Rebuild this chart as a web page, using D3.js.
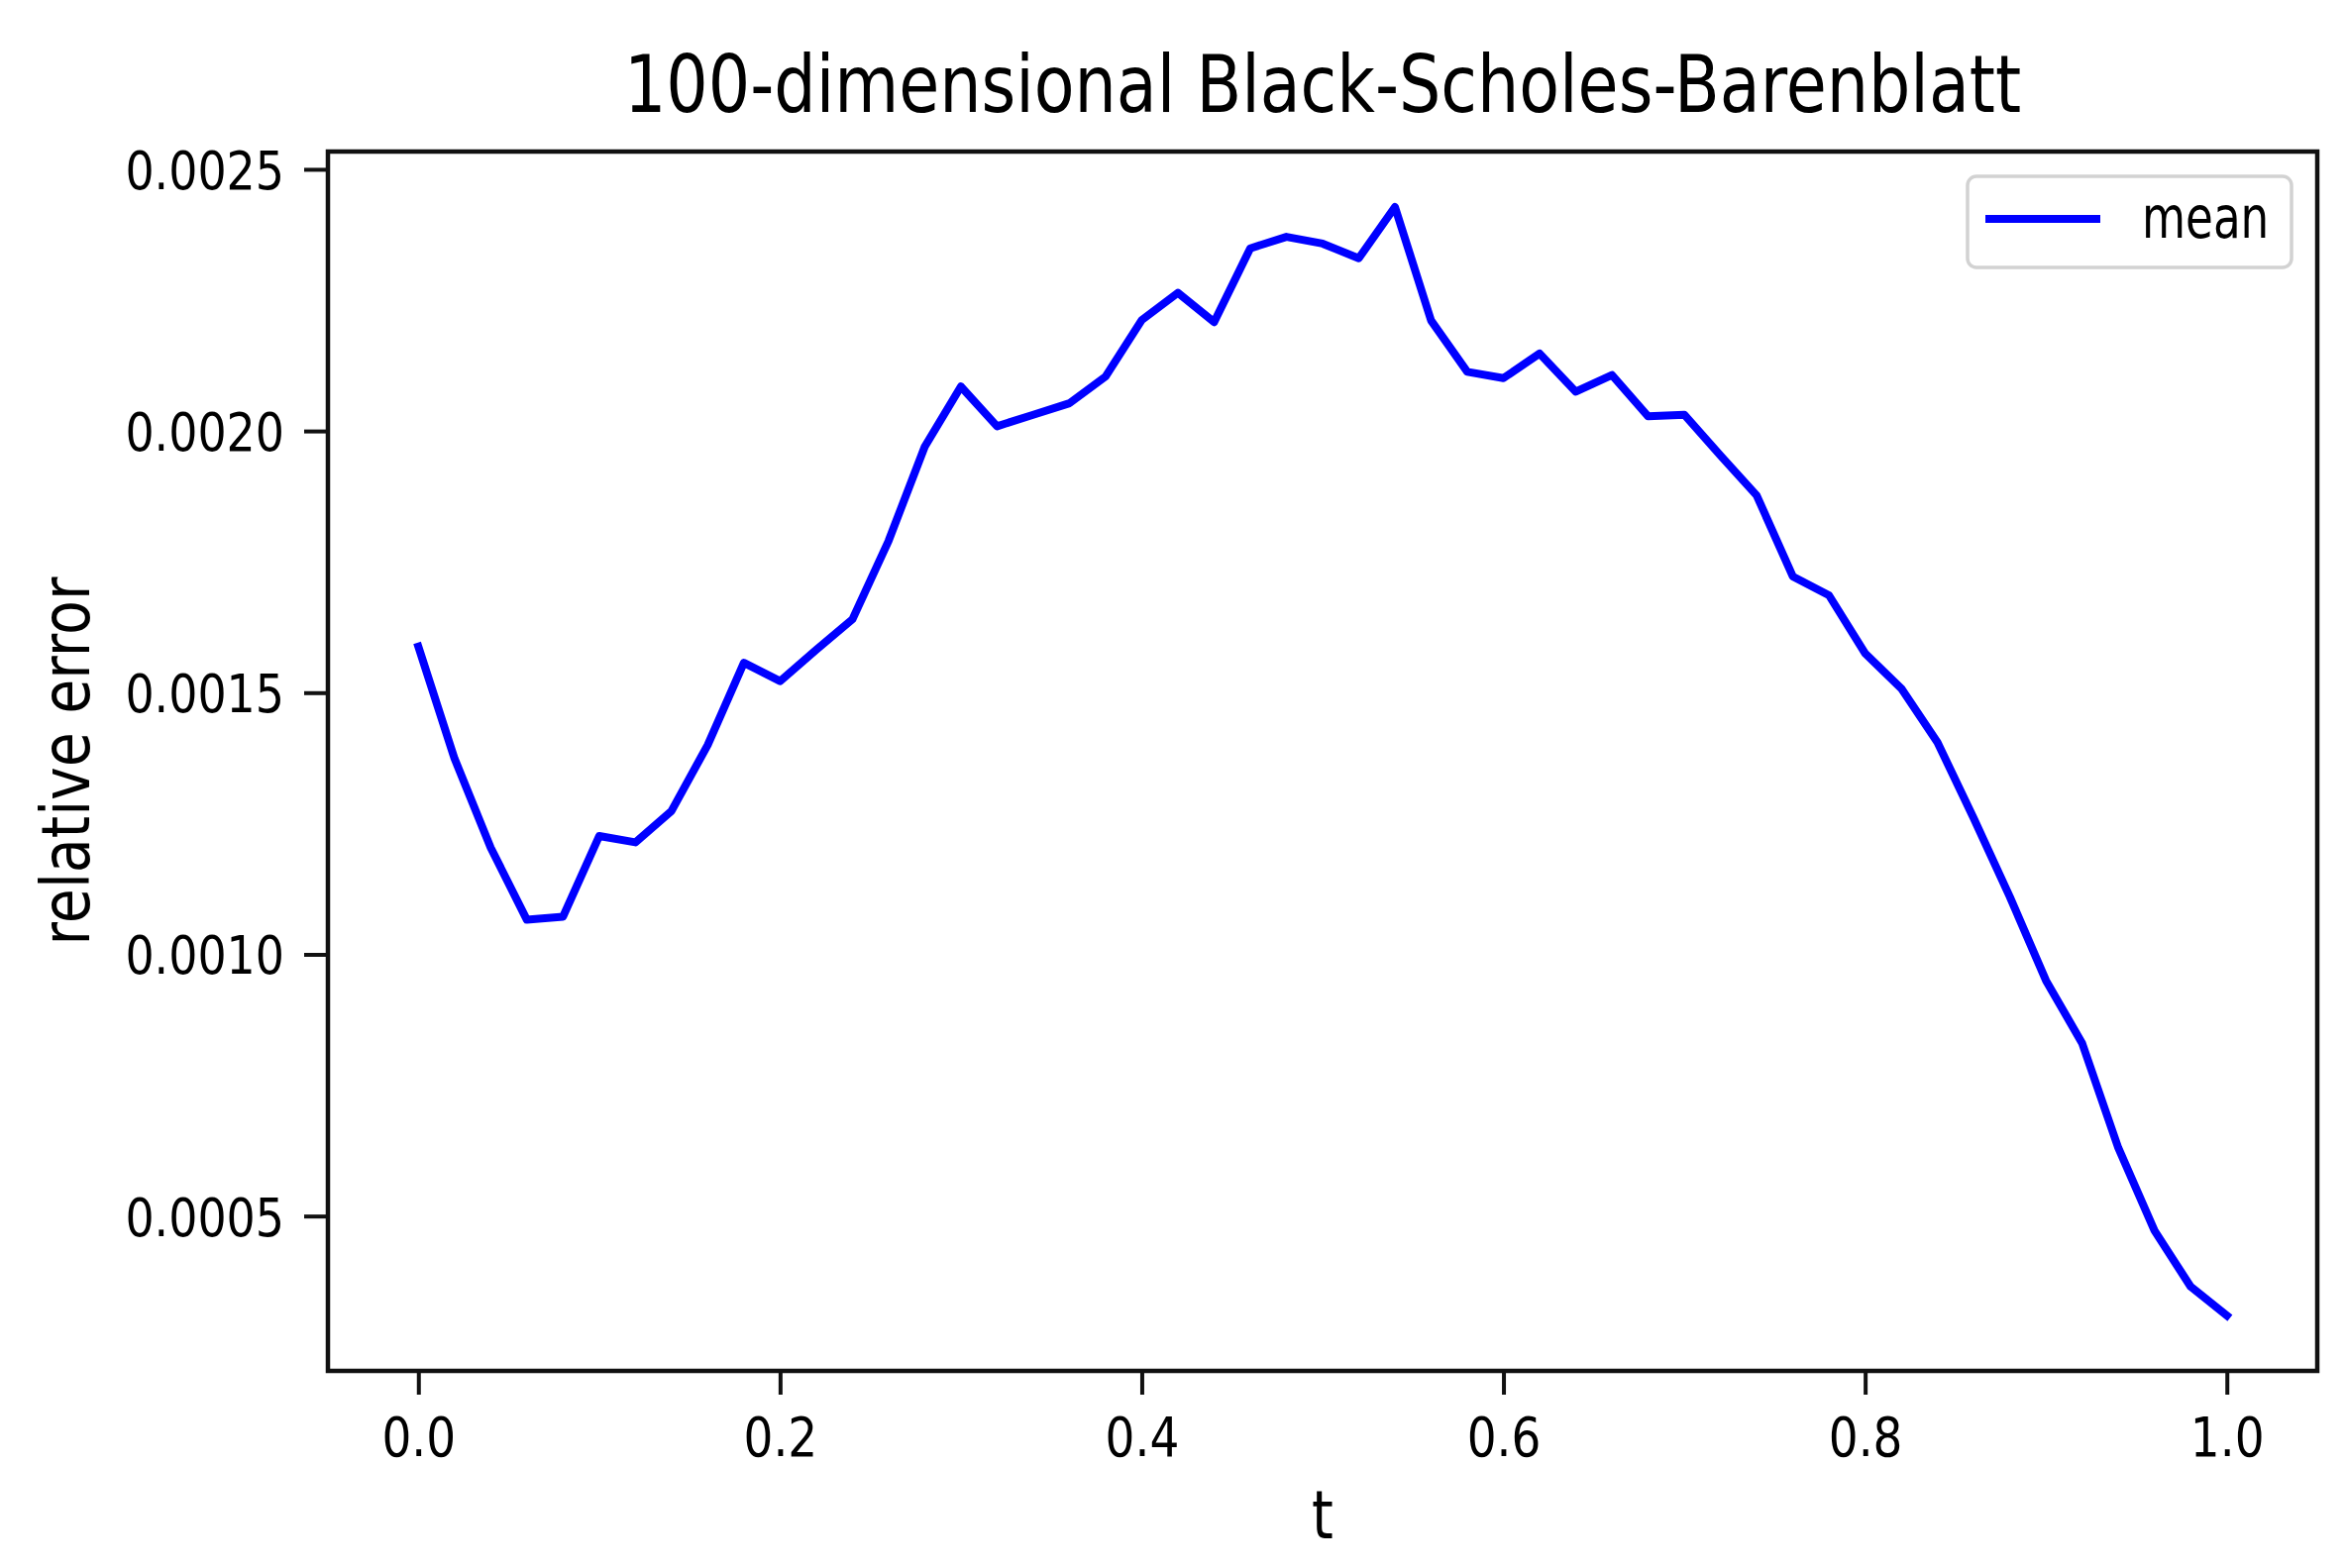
<!DOCTYPE html>
<html>
<head>
<meta charset="utf-8">
<script src="https://cdn.jsdelivr.net/npm/d3@7"></script>
<style>
  body { margin: 0; background: #ffffff; }
  svg { display: block; }
  text { font-family: "DejaVu Sans", "Liberation Sans", sans-serif; fill: #000; }
</style>
</head>
<body>
<svg id="chart" width="2368" height="1583"></svg>
<script>
// ---------------- data ----------------
const tValues = [
  0.00, 0.02, 0.04, 0.06, 0.08, 0.10, 0.12, 0.14, 0.16, 0.18,
  0.20, 0.22, 0.24, 0.26, 0.28, 0.30, 0.32, 0.34, 0.36, 0.38,
  0.40, 0.42, 0.44, 0.46, 0.48, 0.50, 0.52, 0.54, 0.56, 0.58,
  0.60, 0.62, 0.64, 0.66, 0.68, 0.70, 0.72, 0.74, 0.76, 0.78,
  0.80, 0.82, 0.84, 0.86, 0.88, 0.90, 0.92, 0.94, 0.96, 0.98, 1.00
];
const meanError = [
  0.001588, 0.001374, 0.001204, 0.001066, 0.001072, 0.001226, 0.001214, 0.001274, 0.001400, 0.001557,
  0.001522, 0.001582, 0.001640, 0.001790, 0.001970, 0.002085, 0.002009, 0.002031, 0.002053, 0.002104,
  0.002212, 0.002264, 0.002208, 0.002349, 0.002371, 0.002358, 0.002330, 0.002428, 0.002211, 0.002113,
  0.002101, 0.002148, 0.002075, 0.002107, 0.002028, 0.002031, 0.001953, 0.001877, 0.001722, 0.001686,
  0.001575, 0.001508, 0.001405, 0.001260, 0.001110, 0.000950, 0.000830, 0.000630, 0.000472, 0.000365,
  0.000310
];
const xTickValues = [0.0, 0.2, 0.4, 0.6, 0.8, 1.0];
const xTickLabels = ["0.0", "0.2", "0.4", "0.6", "0.8", "1.0"];
const yTickValues = [0.0005, 0.0010, 0.0015, 0.0020, 0.0025];
const yTickLabels = ["0.0005", "0.0010", "0.0015", "0.0020", "0.0025"];
const titleText = "100-dimensional Black-Scholes-Barenblatt";
const xLabelText = "t";
const yLabelText = "relative error";
const seriesName = "mean";

// ---------------- layout ----------------
const plot = { left: 331, right: 2339, top: 153, bottom: 1384 };
const svg = d3.select("#chart");

// matplotlib-style 5% margins
const xMin = d3.min(tValues), xMax = d3.max(tValues);
const xPad = (xMax - xMin) * 0.05;
const yMin = d3.min(meanError), yMax = d3.max(meanError);
const yPad = (yMax - yMin) * 0.05;

const x = d3.scaleLinear().domain([xMin - xPad, xMax + xPad]).range([plot.left, plot.right]);
const y = d3.scaleLinear().domain([yMin - yPad, yMax + yPad]).range([plot.bottom, plot.top]);

const TICK_LEN = 24, TICK_W = 4;

// ---------------- line ----------------
const data = tValues.map((t, i) => ({ t, v: meanError[i] }));
const line = d3.line().x(d => x(d.t)).y(d => y(d.v));
svg.append("path")
  .datum(data)
  .attr("d", line)
  .attr("fill", "none")
  .attr("stroke", "#0000ff")
  .attr("stroke-width", 8)
  .attr("stroke-linejoin", "round")
  .attr("stroke-linecap", "square");

// ---------------- axes ----------------
const xAxis = d3.axisBottom(x)
  .tickValues(xTickValues)
  .tickFormat((d, i) => xTickLabels[i])
  .tickSize(TICK_LEN)
  .tickSizeOuter(0);
const gx = svg.append("g").attr("transform", `translate(0,${plot.bottom})`).call(xAxis);
gx.select(".domain").remove();
gx.selectAll(".tick line").attr("stroke", "#111").attr("stroke-width", TICK_W);
gx.selectAll(".tick text")
  .attr("x", null).attr("y", null).attr("dy", null)
  .attr("transform", "translate(0,86) scale(0.84,1)")
  .attr("text-anchor", "middle")
  .style("font-size", "56px")
  .style("font-family", "'DejaVu Sans', sans-serif")
  .attr("fill", "#000");

const yAxis = d3.axisLeft(y)
  .tickValues(yTickValues)
  .tickFormat((d, i) => yTickLabels[i])
  .tickSize(TICK_LEN)
  .tickSizeOuter(0);
const gy = svg.append("g").attr("transform", `translate(${plot.left},0)`).call(yAxis);
gy.select(".domain").remove();
gy.selectAll(".tick line").attr("stroke", "#111").attr("stroke-width", TICK_W);
gy.selectAll(".tick text")
  .attr("x", null).attr("y", null).attr("dy", "0.36em")
  .attr("transform", "translate(-44,0) scale(0.85,1)")
  .attr("text-anchor", "end")
  .style("font-size", "54px")
  .style("font-family", "'DejaVu Sans', sans-serif")
  .attr("fill", "#000");

// frame (spines)
svg.append("rect")
  .attr("x", plot.left).attr("y", plot.top)
  .attr("width", plot.right - plot.left).attr("height", plot.bottom - plot.top)
  .attr("fill", "none").attr("stroke", "#111").attr("stroke-width", 4.5);

// ---------------- texts ----------------
const cx = (plot.left + plot.right) / 2;
const cy = (plot.top + plot.bottom) / 2;

svg.append("text")
  .attr("transform", `translate(${cx},113) scale(0.834,1)`)
  .attr("text-anchor", "middle")
  .style("font-size", "80px")
  .text(titleText);

svg.append("text")
  .attr("transform", `translate(${cx},1553) scale(0.82,1)`)
  .attr("text-anchor", "middle")
  .style("font-size", "68px")
  .text(xLabelText);

svg.append("text")
  .attr("transform", `translate(90,${cy}) rotate(-90) scale(0.84,1)`)
  .attr("text-anchor", "middle")
  .style("font-size", "68px")
  .text(yLabelText);

// ---------------- legend ----------------
const lg = svg.append("g");
lg.append("rect")
  .attr("x", 1986).attr("y", 178)
  .attr("width", 2313 - 1986).attr("height", 270 - 178)
  .attr("rx", 9).attr("ry", 9)
  .attr("fill", "#fff")
  .attr("stroke", "#d2d2d2")
  .attr("stroke-width", 3.5);
lg.append("line")
  .attr("x1", 2004).attr("x2", 2120)
  .attr("y1", 221).attr("y2", 221)
  .attr("stroke", "#0000ff").attr("stroke-width", 8)
  .attr("stroke-linecap", "butt");
lg.append("text")
  .attr("transform", "translate(2162,240) scale(0.78,1)")
  .attr("text-anchor", "start")
  .style("font-size", "58px")
  .text(seriesName);
</script>
</body>
</html>
